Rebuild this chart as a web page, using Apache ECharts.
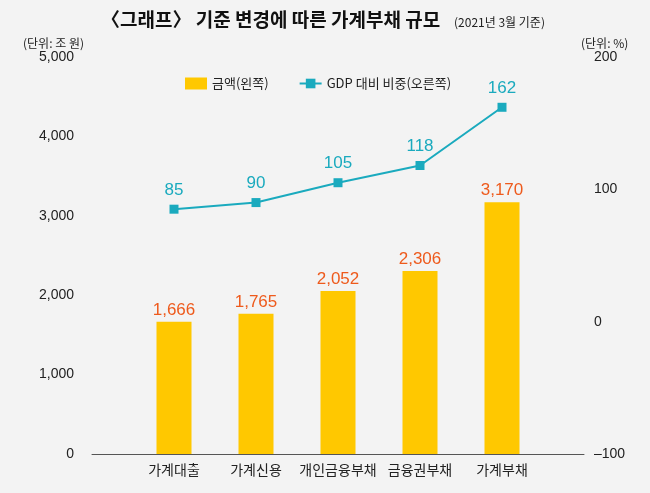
<!DOCTYPE html>
<html>
<head>
<meta charset="utf-8">
<script src="https://cdn.jsdelivr.net/npm/echarts@6/dist/echarts.min.js"></script>
<style>
  html, body { margin: 0; padding: 0; background: #f3f3f3; }
  #main { width: 650px; height: 493px; }
</style>
</head>
<body>
<div id="main"></div>
<script>
// 항목 (앞뒤 빈 칸은 축 여백용)
var categories = ['', '가계대출', '가계신용', '개인금융부채', '금융권부채', '가계부채', ''];
var amount = [null, 1666, 1765, 2052, 2306, 3170, null];   // 조 원
var gdpRatio = [null, 85, 90, 105, 118, 162, null];         // %

var FONT = '"Liberation Sans", "Noto Sans CJK KR", sans-serif';
var KFONT = '"Noto Sans CJK KR", sans-serif';

var chartDom = document.getElementById('main');
var myChart = echarts.init(chartDom);

var option = {
  backgroundColor: '#f3f3f3',
  textStyle: { fontFamily: FONT },
  title: [
    {
      text: '〈그래프〉 기준 변경에 따른 가계부채 규모',
      left: 96,
      top: 5,
      textStyle: { fontSize: 19, fontWeight: 'bold', color: '#111', fontFamily: KFONT }
    },
    {
      text: '(2021년 3월 기준)',
      left: 449,
      top: 11,
      textStyle: { fontSize: 12, fontWeight: 'normal', color: '#222', fontFamily: KFONT }
    },
    {
      text: '(단위: 조 원)',
      left: 18,
      top: 32,
      textStyle: { fontSize: 12, fontWeight: 'normal', color: '#222', fontFamily: KFONT }
    },
    {
      text: '(단위: %)',
      left: 576,
      top: 32,
      textStyle: { fontSize: 12, fontWeight: 'normal', color: '#222', fontFamily: KFONT }
    }
  ],
  legend: {
    top: 72,
    left: 180,
    itemGap: 30,
    itemWidth: 22,
    itemHeight: 12,
    textStyle: { fontSize: 13, color: '#222', fontFamily: KFONT },
    data: [
      { name: '금액(왼쪽)', icon: 'rect', itemStyle: { color: '#ffc800' } },
      { name: 'GDP 대비 비중(오른쪽)' }
    ]
  },
  grid: {
    left: 92,
    right: 66,
    top: 57,
    bottom: 39
  },
  xAxis: {
    type: 'category',
    data: categories,
    boundaryGap: false,
    axisLine: { lineStyle: { color: '#555', width: 1 } },
    axisTick: { show: false },
    axisLabel: { interval: 0, fontSize: 14, color: '#222', margin: 9, fontFamily: KFONT }
  },
  yAxis: [
    {
      type: 'value',
      min: 0,
      max: 5000,
      interval: 1000,
      splitLine: { show: false },
      axisLine: { show: false },
      axisTick: { show: false },
      axisLabel: {
        fontSize: 14,
        color: '#222',
        margin: 18,
        formatter: function (v) { return v.toLocaleString('en-US'); }
      }
    },
    {
      type: 'value',
      min: -100,
      max: 200,
      interval: 100,
      splitLine: { show: false },
      axisLine: { show: false },
      axisTick: { show: false },
      axisLabel: {
        fontSize: 14,
        color: '#222',
        margin: 10,
        formatter: function (v) { return v < 0 ? '\u2013' + Math.abs(v) : String(v); }
      }
    }
  ],
  series: [
    {
      name: '금액(왼쪽)',
      type: 'bar',
      data: amount,
      barWidth: 35,
      itemStyle: { color: '#ffc800' },
      label: {
        show: true,
        position: 'top',
        distance: 3,
        fontSize: 17,
        color: '#ee5a1c',
        formatter: function (p) { return p.value.toLocaleString('en-US'); }
      }
    },
    {
      name: 'GDP 대비 비중(오른쪽)',
      type: 'line',
      yAxisIndex: 1,
      data: gdpRatio,
      symbol: 'rect',
      symbolSize: 9,
      lineStyle: { color: '#1aaabe', width: 2 },
      itemStyle: { color: '#1aaabe' },
      label: {
        show: true,
        position: 'top',
        distance: 6,
        fontSize: 17,
        color: '#1aaabe'
      }
    }
  ]
};

myChart.setOption(option);
</script>
</body>
</html>
